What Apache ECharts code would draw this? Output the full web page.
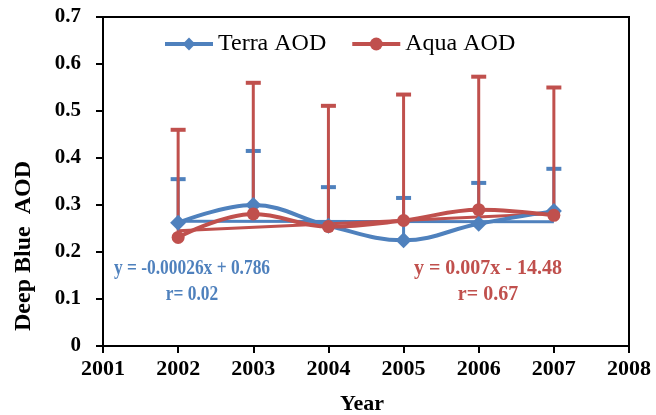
<!DOCTYPE html>
<html>
<head>
<meta charset="utf-8">
<script src="https://cdn.jsdelivr.net/npm/echarts@6/dist/echarts.min.js"></script>
<style>html,body{margin:0;padding:0;background:#fff;}#c{width:656px;height:415px;}</style>
</head>
<body>
<div id="c"></div>
<script>
var years = [2002, 2003, 2004, 2005, 2006, 2007];
var terraAOD = [0.262, 0.300, 0.256, 0.225, 0.260, 0.287];
var terraErrTop = [0.355, 0.415, 0.338, 0.315, 0.347, 0.377];
var aquaAOD = [0.231, 0.281, 0.254, 0.267, 0.290, 0.278];
var aquaErrTop = [0.460, 0.560, 0.511, 0.535, 0.573, 0.550];
var trendYears = [2002, 2007];
var terraTrend = [0.2655, 0.2642];
var aquaTrend = [0.245, 0.282];
var xTicks = [2001, 2002, 2003, 2004, 2005, 2006, 2007, 2008];
var yTicks = [0, 0.1, 0.2, 0.3, 0.4, 0.5, 0.6, 0.7];

var BLUE = '#4F81BD', RED = '#C0504D';
var FONT = '"Liberation Serif", "Times New Roman", serif';

function pairs(xs, ys) { return xs.map(function (x, i) { return [x, ys[i]]; }); }
function errData(xs, lo, hi) { return xs.map(function (x, i) { return [x, lo[i], hi[i]]; }); }
function errRender(color, w, capW) {
  return function (params, api) {
    var x = api.value(0);
    var a = api.coord([x, api.value(1)]);
    var b = api.coord([x, api.value(2)]);
    return {
      type: 'group', children: [
        { type: 'line', shape: { x1: a[0], y1: a[1], x2: b[0], y2: b[1] }, style: { stroke: color, lineWidth: w } },
        { type: 'line', shape: { x1: b[0] - 7.5, y1: b[1], x2: b[0] + 7.5, y2: b[1] }, style: { stroke: color, lineWidth: capW } }
      ]
    };
  };
}
function eqText(t, x, y, color, sx) {
  return { type: 'text', x: x, y: y, scaleX: sx, style: { text: t, x: 0, y: 0, fontFamily: FONT, fontSize: 20, fontWeight: 'bold', fill: color, textAlign: 'center', textVerticalAlign: 'middle' } };
}

var chart = echarts.init(document.getElementById('c'));
chart.setOption({
  animation: false,
  backgroundColor: '#fff',
  grid: { left: 103, right: 27, top: 17, bottom: 69, show: true, borderColor: '#000', borderWidth: 2 },
  legend: {
    data: ['Terra AOD', 'Aqua AOD'],
    top: 27, left: 158, itemWidth: 48, itemHeight: 16, itemGap: 24,
    lineStyle: { width: 4 },
    textStyle: { fontFamily: FONT, fontSize: 24, color: '#000' }
  },
  xAxis: {
    type: 'value', min: xTicks[0], max: xTicks[xTicks.length - 1], interval: 1,
    axisLine: { lineStyle: { color: '#000', width: 2 } },
    axisTick: { show: true, inside: false, length: 7, lineStyle: { color: '#000', width: 2 } },
    splitLine: { show: false },
    axisLabel: { margin: 12, fontFamily: FONT, fontSize: 22, fontWeight: 'bold', color: '#000', formatter: function (v) { return String(v); } }
  },
  yAxis: {
    type: 'value', min: yTicks[0], max: yTicks[yTicks.length - 1], interval: 0.1,
    axisLine: { show: true, lineStyle: { color: '#000', width: 2 } },
    axisTick: { show: true, inside: false, length: 7, lineStyle: { color: '#000', width: 2 } },
    splitLine: { show: false },
    axisLabel: { margin: 22, fontFamily: FONT, fontSize: 21, fontWeight: 'bold', color: '#000', formatter: function (v) { return String(Math.round(v * 10) / 10); } }
  },
  graphic: [
    { type: 'text', x: 24, y: 246, rotation: Math.PI / 2, style: { text: 'Deep Blue  AOD', x: 0, y: 0, fontFamily: FONT, fontSize: 24, fontWeight: 'bold', fill: '#000', textAlign: 'center', textVerticalAlign: 'middle' } },
    { type: 'text', style: { text: 'Year', x: 362, y: 404, fontFamily: FONT, fontSize: 22, fontWeight: 'bold', fill: '#000', textAlign: 'center', textVerticalAlign: 'middle' } },
    eqText('y = -0.00026x + 0.786', 192, 269, BLUE, 0.87),
    eqText('r= 0.02', 192, 295, BLUE, 0.87),
    eqText('y = 0.007x - 14.48', 488, 269, RED, 1.0),
    eqText('r= 0.67', 488, 295, RED, 1.0)
  ],
  series: [
    { name: 'terraErr', type: 'custom', renderItem: errRender(BLUE, 3, 4), data: errData(years, terraAOD, terraErrTop), encode: { x: 0, y: [1, 2] }, z: 1 },
    { name: 'aquaErr', type: 'custom', renderItem: errRender(RED, 3, 4), data: errData(years, aquaAOD, aquaErrTop), encode: { x: 0, y: [1, 2] }, z: 2 },
    { name: 'terraTrend', type: 'line', data: pairs(trendYears, terraTrend), symbol: 'none', lineStyle: { color: BLUE, width: 3 }, z: 3 },
    { name: 'aquaTrend', type: 'line', data: pairs(trendYears, aquaTrend), symbol: 'none', lineStyle: { color: RED, width: 3 }, z: 3 },
    { name: 'Terra AOD', type: 'line', data: pairs(years, terraAOD), smooth: 0.4, symbol: 'diamond', symbolSize: 16, itemStyle: { color: BLUE }, lineStyle: { color: BLUE, width: 4 }, z: 4 },
    { name: 'Aqua AOD', type: 'line', data: pairs(years, aquaAOD), smooth: 0.4, symbol: 'circle', symbolSize: 13, itemStyle: { color: RED }, lineStyle: { color: RED, width: 4 }, z: 5 }
  ]
});
</script>
</body>
</html>
